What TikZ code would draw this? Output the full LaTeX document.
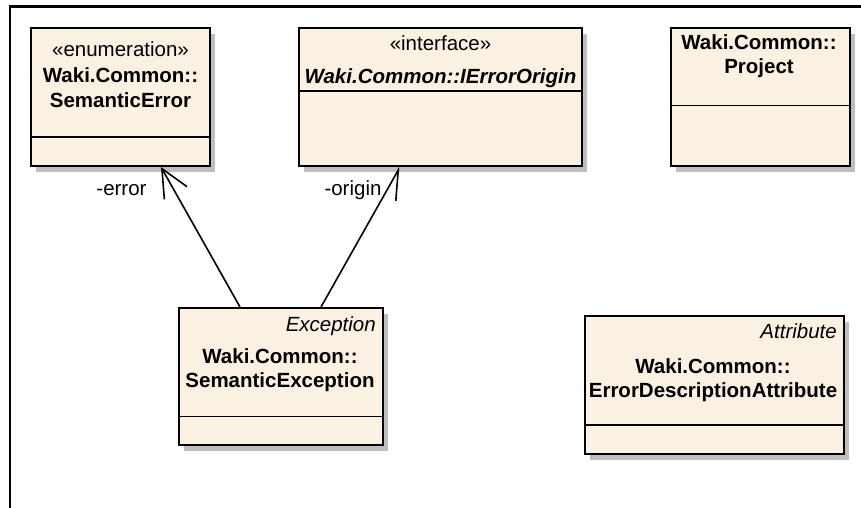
\documentclass[tikz,border=0pt]{standalone}
\usepackage{fontspec}
\setmainfont{Liberation Sans}
\usetikzlibrary{arrows.meta}
\definecolor{classfill}{RGB}{251,241,227}
\definecolor{shadowgray}{RGB}{190,190,190}

\begin{document}
\begin{tikzpicture}[x=1pt,y=-1pt,
  classbox/.style={draw=black, line width=2pt, fill=classfill, anchor=north west, inner sep=0pt},
  boxshadow/.style={fill=shadowgray},
  divider/.style={draw=black, line width=1.8pt},
  umltext/.style={anchor=base, inner sep=0pt, font=\fontsize{20.5}{24}\selectfont},
  classname/.style={umltext, font=\fontsize{20.5}{24}\selectfont\bfseries},
  stereo/.style={umltext, anchor=base east, font=\fontsize{20.5}{24}\selectfont\itshape},
  assoc/.style={draw=black, line width=1.6pt},
  navtip/.style={-{Straight Barb[length=28pt,width=26pt,line width=1.6pt]}},
  halftip/.style={-{Straight Barb[length=28pt,width=26pt,line width=1.6pt,right]}},
]
\useasboundingbox (0,0) rectangle (861,508);

% diagram frame
\coordinate (fbl) at (10,508);
\coordinate (ftl) at (10,6.5);
\coordinate (ftr) at (861,6.5);
\draw[line width=2.4pt] (fbl) -- (ftl) -- (ftr);

% drop shadows, offset below and right of each class box
\fill[boxshadow] (36,34) rectangle ++(179,138);
\fill[boxshadow] (304,34) rectangle ++(283,138);
\fill[boxshadow] (676,34) rectangle ++(179,138);
\fill[boxshadow] (184,314) rectangle ++(204,137);
\fill[boxshadow] (590,322) rectangle ++(259,138);

% class boxes
\node[classbox, minimum width=179pt, minimum height=138pt] (semerr) at (30,27) {};
\node[classbox, minimum width=283pt, minimum height=138pt] (origin) at (298,27) {};
\node[classbox, minimum width=179pt, minimum height=138pt] (project) at (670,27) {};
\node[classbox, minimum width=204pt, minimum height=137pt] (semexc) at (178,307) {};
\node[classbox, minimum width=259pt, minimum height=138pt] (errattr) at (584,315) {};

% compartment dividers
\draw[divider] ([yshift=-110pt]semerr.north west) -- ([yshift=-110pt]semerr.north east);
\draw[divider] ([yshift=-64pt]origin.north west) -- ([yshift=-64pt]origin.north east);
\draw[divider] ([yshift=-78.5pt]project.north west) -- ([yshift=-78.5pt]project.north east);
\draw[divider] ([yshift=-109.5pt]semexc.north west) -- ([yshift=-109.5pt]semexc.north east);
\draw[divider] ([yshift=-110pt]errattr.north west) -- ([yshift=-110pt]errattr.north east);

% SemanticError
\node[umltext] (semerrst) at (120.5,56.5) {«enumeration»};
\node[classname] (semerrns) at (120.5,82.5) {Waki.Common::};
\node[classname] (semerrnm) at (120.5,107) {SemanticError};

% IErrorOrigin
\node[umltext] (originst) at (440.5,50.5) {«interface»};
\node[classname, font=\fontsize{20.5}{24}\selectfont\bfseries\itshape] (originnm) at (440.5,83.5) {Waki.Common::IErrorOrigin};

% Project
\node[classname] (projectns) at (759,50) {Waki.Common::};
\node[classname] (projectnm) at (759,74) {Project};

% SemanticException
\node[stereo] (semexcst) at (376,331) {Exception};
\node[classname] (semexcns) at (280,363.5) {Waki.Common::};
\node[classname] (semexcnm) at (280,387) {SemanticException};

% ErrorDescriptionAttribute
\node[stereo] (errattrst) at (837,338) {Attribute};
\node[classname] (errattrns) at (713,373.5) {Waki.Common::};
\node[classname] (errattrnm) at (713,397) {ErrorDescriptionAttribute};

% navigable associations
\draw[assoc, navtip] ([xshift=62pt]semexc.north west) -- ([xshift=131pt]semerr.south west);
\draw[assoc, halftip] ([xshift=143pt]semexc.north west) -- ([xshift=102pt]origin.south west);

% role names
\node[umltext] (errrole) at (121.5,195) {-error};
\node[umltext] (originrole) at (353,195) {-origin};
\end{tikzpicture}
\end{document}
